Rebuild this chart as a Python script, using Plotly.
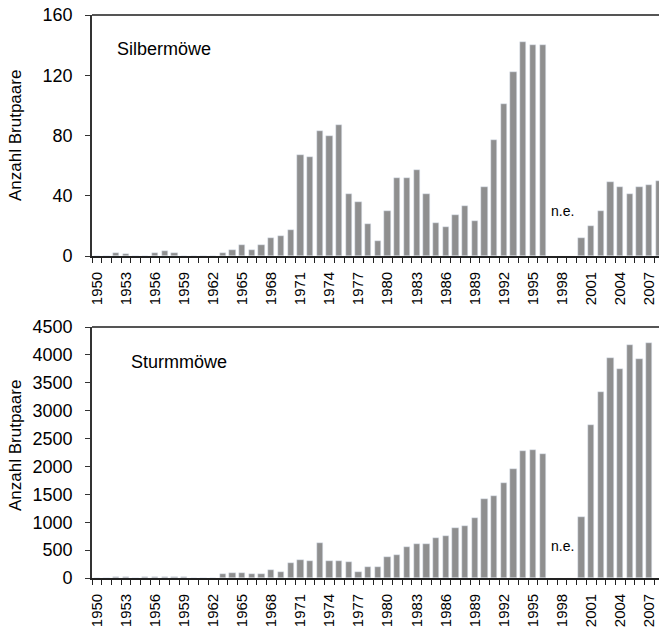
import plotly.graph_objects as go

years_top = list(range(1950, 2009))
silbermoewe = [0, 0, 2, 1, 0, 0, 2, 3, 2, 0,
               0, 0, 0, 2, 4, 7, 4, 7, 12, 13,
               17, 67, 66, 83, 80, 87, 41, 36, 21, 10,
               30, 52, 52, 57, 41, 22, 19, 27, 33, 23,
               46, 77, 101, 122, 142, 140, 140, None, None, None,
               12, 20, 30, 49, 46, 41, 46, 47, 50]

years_bot = list(range(1950, 2008))
sturmmoewe = [0, 0, 25, 25, 0, 25, 25, 25, 25, 25,
              0, 0, 0, 80, 95, 95, 78, 78, 150, 115,
              275, 330, 310, 635, 310, 310, 295, 115, 205, 205,
              380, 420, 560, 615, 615, 725, 760, 900, 940, 1080,
              1420, 1475, 1710, 1960, 2285, 2300, 2230, None, None, None,
              1100, 2750, 3340, 3950, 3750, 4180, 3930, 4220]

label_years = list(range(1950, 2008, 3))
top_ticks = [0, 40, 80, 120, 160]
bot_ticks = list(range(0, 4501, 500))

W, H = 659, 630
BAR = "#8f8f8f"
FONT = "Liberation Sans, Arial, Helvetica, sans-serif"

def py(px):
    return 1 - px / H

fig = go.Figure()
fig.add_trace(go.Bar(x=years_top, y=silbermoewe, marker_color=BAR, width=0.65,
                     xaxis="x", yaxis="y", showlegend=False, hoverinfo="skip"))
fig.add_trace(go.Bar(x=years_bot, y=sturmmoewe, marker_color=BAR, width=0.65,
                     xaxis="x2", yaxis="y2", showlegend=False, hoverinfo="skip"))

xcommon = dict(range=[1949.5, 2008.0], tickmode="array", tickvals=label_years,
               ticktext=[str(y) for y in label_years], tickangle=-90,
               ticks="outside", ticklen=5, tickcolor="rgba(0,0,0,0)",
               minor=dict(tick0=1949.5, dtick=1, ticks="outside", ticklen=5,
                          tickcolor="#222", tickwidth=1.2, showgrid=False),
               showline=True, linecolor="#222", linewidth=1.6,
               showgrid=False, zeroline=False, automargin=False,
               tickfont=dict(family=FONT, size=15, color="#000"),
               ticklabelstandoff=3, fixedrange=True)

ycommon = dict(showline=True, linecolor="#333", linewidth=1.6, ticks="outside",
               ticklen=5, tickcolor="#333", showgrid=False, zeroline=False,
               automargin=False, fixedrange=True,
               tickfont=dict(family=FONT, size=18, color="#000"),
               ticklabelstandoff=9)

fig.update_layout(
    width=W, height=H, plot_bgcolor="white", paper_bgcolor="white",
    margin=dict(l=92, r=0, t=0, b=0, autoexpand=False),
    bargap=0,
    xaxis=dict(domain=[0, 1], anchor="y", **xcommon),
    yaxis=dict(domain=[py(256), py(15)], anchor="x", range=[0, 160],
               tickvals=top_ticks, **ycommon),
    xaxis2=dict(domain=[0, 1], anchor="y2", **xcommon),
    yaxis2=dict(domain=[py(578), py(327)], anchor="x2", range=[0, 4500],
                tickvals=bot_ticks, **ycommon),
    font=dict(family=FONT),
)

# top borders
for yr in ["y domain", "y2 domain"]:
    xr = "x domain" if yr == "y domain" else "x2 domain"
    fig.add_shape(type="line", xref=xr, yref=yr, x0=0, x1=1, y0=1, y1=1,
                  line=dict(color="#555", width=2))

# y-axis titles
for ycen in (136, 446):
    fig.add_annotation(text="Anzahl Brutpaare", xref="paper", yref="paper",
                       x=-77 / 567, y=py(ycen), xanchor="center", yanchor="middle",
                       textangle=-90, showarrow=False,
                       font=dict(family=FONT, size=17, color="#000"))

fig.add_annotation(text="Silbermöwe", xref="x domain", yref="y domain",
                   x=(115 - 92) / 567, y=(256 - 49) / 241, xanchor="left", yanchor="middle",
                   showarrow=False, font=dict(family=FONT, size=18, color="#000"))
fig.add_annotation(text="Sturmmöwe", xref="x2 domain", yref="y2 domain",
                   x=(129 - 92) / 567, y=(578 - 362) / 251, xanchor="left", yanchor="middle",
                   showarrow=False, font=dict(family=FONT, size=18, color="#000"))
fig.add_annotation(text="n.e.", xref="x", yref="y", x=1998, y=30,
                   showarrow=False, font=dict(family=FONT, size=14, color="#000"))
fig.add_annotation(text="n.e.", xref="x2", yref="y2", x=1998, y=580,
                   showarrow=False, font=dict(family=FONT, size=14, color="#000"))

fig.write_html("out.html", config={"displayModeBar": False},
               post_script="document.body.style.margin='0';document.body.style.overflow='hidden';")
